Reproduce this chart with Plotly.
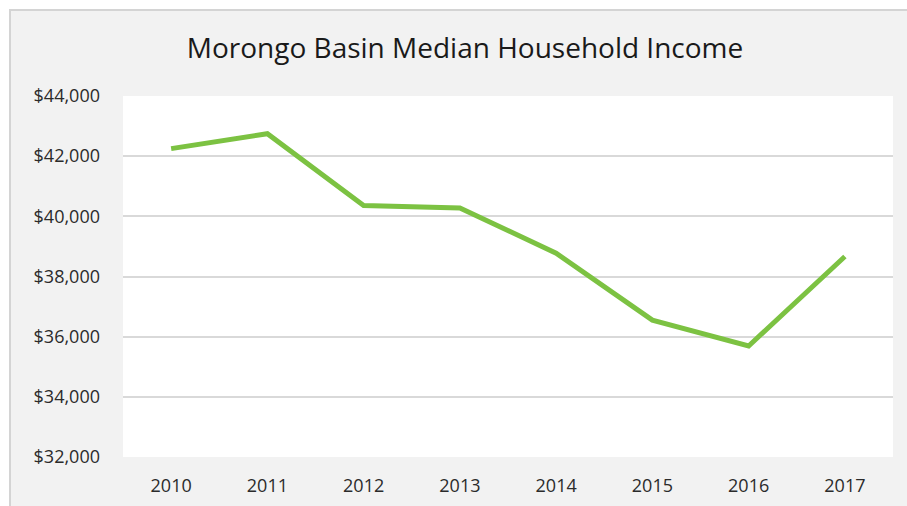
import plotly.graph_objects as go

years = ["2010", "2011", "2012", "2013", "2014", "2015", "2016", "2017"]
income = [42250, 42745, 40360, 40280, 38775, 36550, 35690, 38665]
y_ticks = [32000, 34000, 36000, 38000, 40000, 42000, 44000]
y_tick_labels = ["$32,000", "$34,000", "$36,000", "$38,000", "$40,000", "$42,000", "$44,000"]

W, H = 907, 506
L, R, T, B = 123, 14, 96, 49
pw, ph = W - L - R, H - T - B

def px_x(p):
    return (p - L) / pw

def px_y(p):
    return (H - B - p) / ph

fig = go.Figure()
fig.add_trace(go.Scatter(
    x=years, y=income, mode="lines",
    line=dict(color="#7cc242", width=5),
    hoverinfo="skip",
))

fig.update_layout(
    width=W, height=H,
    margin=dict(l=L, r=R, t=T, b=B, autoexpand=False),
    paper_bgcolor="white",
    plot_bgcolor="white",
    showlegend=False,
    font=dict(family="Open Sans", color="#333333"),
    title=dict(
        text="Morongo Basin Median Household Income",
        x=465 / W, xref="container", xanchor="center",
        y=1 - 48 / H, yref="container", yanchor="middle",
        font=dict(family="Open Sans", size=28, color="#1a1a1a"),
    ),
    shapes=[
        dict(type="rect", xref="paper", yref="paper", layer="below",
             x0=px_x(10), x1=px_x(W + 20), y0=px_y(H + 20), y1=px_y(10),
             fillcolor="#f2f2f2", line=dict(color="#d4d4d4", width=2)),
        dict(type="rect", xref="paper", yref="paper", layer="below",
             x0=0, x1=1, y0=0, y1=1,
             fillcolor="white", line=dict(width=0)),
    ],
    xaxis=dict(
        type="category", range=[-0.5, 7.5], automargin=False,
        showgrid=False, showline=False, zeroline=False,
        ticks="", tickfont=dict(size=18, color="#2b2b2b"),
        ticklabelstandoff=16, fixedrange=True,
    ),
    yaxis=dict(
        range=[32000, 44000], tickvals=y_ticks, ticktext=y_tick_labels,
        automargin=False,
        showgrid=True, gridcolor="#d9d9d9", gridwidth=1.5,
        showline=False, zeroline=False, ticks="",
        tickfont=dict(size=18, color="#2b2b2b"),
        ticklabelstandoff=22, fixedrange=True,
    ),
)

fig.write_html("out.html", config={"displayModeBar": False},
               post_script="document.body.style.margin='0';document.body.style.overflow='hidden';")
